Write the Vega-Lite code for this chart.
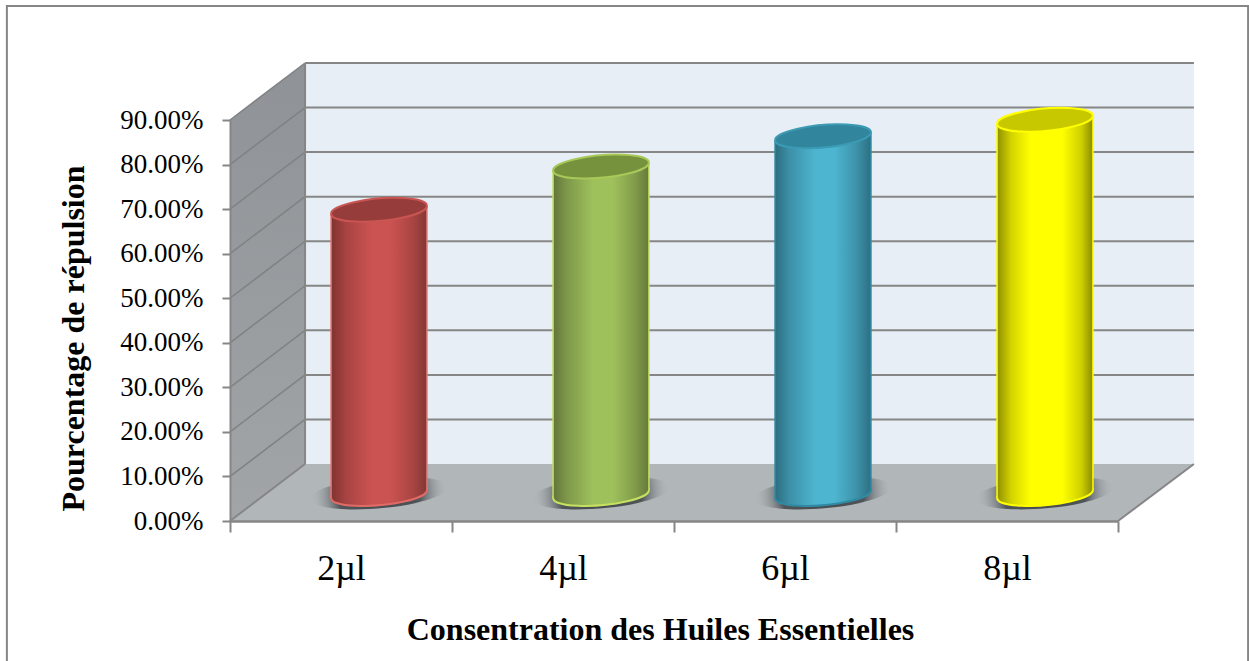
{
"$schema":"https://vega.github.io/schema/vega-lite/v6.json",
"width":888,"height":401,
"autosize":"none",
"padding":{"left":230,"top":120,"right":131,"bottom":140},
"background":"#ffffff",
"config":{"view":{"stroke":null}},
"datasets":{
"cylinders":[
{"concentration":"2µl","center":0.5,"value":0.638,"base":0},
{"concentration":"4µl","center":1.5,"value":0.735,"base":0},
{"concentration":"6µl","center":2.5,"value":0.803,"base":0},
{"concentration":"8µl","center":3.5,"value":0.84,"base":0}],
"edges":[
{"concentration":"2µl","x":0.284,"top":0.629,"bottom":-0.009},
{"concentration":"2µl","x":0.716,"top":0.647,"bottom":0.009},
{"concentration":"4µl","x":1.284,"top":0.726,"bottom":-0.009},
{"concentration":"4µl","x":1.716,"top":0.744,"bottom":0.009},
{"concentration":"6µl","x":2.284,"top":0.794,"bottom":-0.009},
{"concentration":"6µl","x":2.716,"top":0.812,"bottom":0.009},
{"concentration":"8µl","x":3.284,"top":0.831,"bottom":-0.009},
{"concentration":"8µl","x":3.716,"top":0.849,"bottom":0.009}],
"levels":[{"level":0.1},{"level":0.2},{"level":0.3},{"level":0.4},{"level":0.5},{"level":0.6},{"level":0.7},{"level":0.8},{"level":0.9}],
"sideWall":[{"x":0,"low":0,"high":0.9},{"x":0.338,"low":0.128,"high":1.028}],
"floor":[{"x":0,"upper":0,"lower":0},{"x":0.338,"upper":0.128,"lower":0},{"x":4,"upper":0.128,"lower":0},{"x":4.342,"upper":0.128,"lower":0.128}]
},
"resolve":{"scale":{"x":"independent"}},
"layer":[
{"data":{"values":[{"a":-1.005,"b":4.586,"c":1.156,"d":-0.4}]},
 "mark":{"type":"rect","fill":null,"fillOpacity":0,"stroke":"#868686","strokeWidth":2},
 "encoding":{"x":{"field":"a","type":"quantitative","scale":{"domain":[0,4]},"axis":null},"x2":{"field":"b"},"y":{"field":"c","type":"quantitative","scale":{"domain":[0,0.9]},
 "axis":{"title":"Pourcentage de répulsion","values":[0,0.1,0.2,0.3,0.4,0.5,0.6,0.7,0.8,0.9],"format":".2%","grid":false,"labelFont":"Liberation Serif","labelFontSize":27,"labelColor":"#000000","labelPadding":19,"tickSize":8,"tickColor":"#868686","tickWidth":2,"domainColor":"#868686","domainWidth":2,"zindex":1,"titleFont":"Liberation Serif","titleFontSize":32,"titleFontWeight":"bold","titleColor":"#000000","titleX":-147,"titleY":218,"titleBaseline":"alphabetic"}},"y2":{"field":"d"}}},
{"data":{"values":[{"a":0.338,"b":4.342,"c":0.128,"d":1.028}]},
 "mark":{"type":"rect","fill":"#e7eef5"},
 "encoding":{"x":{"field":"a","type":"quantitative","scale":{"domain":[0,4]},"axis":null},"x2":{"field":"b"},"y":{"field":"c","type":"quantitative"},"y2":{"field":"d"}}},
{"data":{"name":"sideWall"},
 "mark":{"type":"area","fill":{"gradient":"linear","x1":0,"y1":0,"x2":0,"y2":1,"stops":[{"offset":0,"color":"#8f9296"},{"offset":1,"color":"#a2a5a8"}]}},
 "encoding":{"x":{"field":"x","type":"quantitative","scale":{"domain":[0,4]},"axis":null},"y":{"field":"low","type":"quantitative"},"y2":{"field":"high"}}},
{"data":{"name":"floor"},
 "mark":{"type":"area","fill":"#b1b6b9"},
 "encoding":{"x":{"field":"x","type":"quantitative","scale":{"domain":[0,4]},"axis":null},"y":{"field":"upper","type":"quantitative"},"y2":{"field":"lower"}}},
{"data":{"name":"levels"},
 "mark":{"type":"rule","stroke":"#868686","strokeWidth":2,"yOffset":-57},
 "encoding":{"x":{"datum":0.338,"type":"quantitative","scale":{"domain":[0,4]},"axis":null},"x2":{"datum":4.342},"y":{"field":"level","type":"quantitative"}}},
{"data":{"name":"levels"},
 "mark":{"type":"rule","stroke":"#7f8285","strokeWidth":1.5,"y2Offset":-57},
 "encoding":{"x":{"datum":0,"type":"quantitative","scale":{"domain":[0,4]},"axis":null},"x2":{"datum":0.338},"y":{"field":"level","type":"quantitative"},"y2":{"field":"level"}}},
{"data":{"values":[{"x":0,"x2":0.338,"y":0,"y2":0.128},{"x":0.338,"x2":0.338,"y":0.128,"y2":1.028},{"x":4,"x2":4.342,"y":0,"y2":0.128}]},
 "mark":{"type":"rule","stroke":"#868686","strokeWidth":2},
 "encoding":{"x":{"field":"x","type":"quantitative","scale":{"domain":[0,4]},"axis":null},"x2":{"field":"x2"},"y":{"field":"y","type":"quantitative"},"y2":{"field":"y2"}}},
{"data":{"name":"cylinders"},
 "mark":{"type":"point","filled":true,"opacity":1,"size":19044,"xOffset":38,"yOffset":-28,"shape":"M-0.996,0.087A1,0.217,-5,1,1,0.996,-0.087A1,0.217,-5,1,1,-0.996,0.087Z","fill":{"gradient":"radial","x1":0.5,"y1":0.5,"x2":0.5,"y2":0.5,"r1":0,"r2":0.5,"stops":[{"offset":0,"color":"#454a4e"},{"offset":0.6,"color":"#50555a"},{"offset":1,"color":"rgba(177,182,185,0)"}]}},
 "encoding":{"x":{"field":"center","type":"quantitative","scale":{"domain":[0,4]},"axis":null},"y":{"field":"base","type":"quantitative"}}},

{"data":{"name":"cylinders"},"transform":[{"filter":"datum.concentration==='2µl'"}],
 "mark":{"type":"point","filled":true,"opacity":1,"size":9216,"xOffset":38,"yOffset":-27,"stroke":"#e06b66","strokeWidth":2,"shape":"M-0.996,0.087A1,0.229,-5,1,1,0.996,-0.087A1,0.229,-5,1,1,-0.996,0.087Z","fill":{"gradient":"linear","x1":0,"y1":0,"x2":1,"y2":0,"stops":[{"offset":0,"color":"#7f3330"},{"offset":0.15,"color":"#a64341"},{"offset":0.42,"color":"#cb5351"},{"offset":0.62,"color":"#cb5351"},{"offset":0.85,"color":"#a94543"},{"offset":1,"color":"#823836"}]}},
 "encoding":{"x":{"field":"center","type":"quantitative","scale":{"domain":[0,4]},"axis":null},"y":{"field":"base","type":"quantitative"}}},
{"data":{"name":"cylinders"},"transform":[{"filter":"datum.concentration==='4µl'"}],
 "mark":{"type":"point","filled":true,"opacity":1,"size":9216,"xOffset":38,"yOffset":-27,"stroke":"#c6e060","strokeWidth":2,"shape":"M-0.996,0.087A1,0.229,-5,1,1,0.996,-0.087A1,0.229,-5,1,1,-0.996,0.087Z","fill":{"gradient":"linear","x1":0,"y1":0,"x2":1,"y2":0,"stops":[{"offset":0,"color":"#62753a"},{"offset":0.15,"color":"#7f994a"},{"offset":0.42,"color":"#9fc15c"},{"offset":0.62,"color":"#9fc15c"},{"offset":0.85,"color":"#829c4b"},{"offset":1,"color":"#65793a"}]}},
 "encoding":{"x":{"field":"center","type":"quantitative","scale":{"domain":[0,4]},"axis":null},"y":{"field":"base","type":"quantitative"}}},
{"data":{"name":"cylinders"},"transform":[{"filter":"datum.concentration==='6µl'"}],
 "mark":{"type":"point","filled":true,"opacity":1,"size":9216,"xOffset":38,"yOffset":-27,"stroke":"#2f8aa3","strokeWidth":2,"shape":"M-0.996,0.087A1,0.229,-5,1,1,0.996,-0.087A1,0.229,-5,1,1,-0.996,0.087Z","fill":{"gradient":"linear","x1":0,"y1":0,"x2":1,"y2":0,"stops":[{"offset":0,"color":"#2d6d80"},{"offset":0.15,"color":"#3c90a7"},{"offset":0.42,"color":"#4db5d0"},{"offset":0.62,"color":"#4db5d0"},{"offset":0.85,"color":"#3d92aa"},{"offset":1,"color":"#2d6f82"}]}},
 "encoding":{"x":{"field":"center","type":"quantitative","scale":{"domain":[0,4]},"axis":null},"y":{"field":"base","type":"quantitative"}}},
{"data":{"name":"cylinders"},"transform":[{"filter":"datum.concentration==='8µl'"}],
 "mark":{"type":"point","filled":true,"opacity":1,"size":9216,"xOffset":38,"yOffset":-27,"stroke":"#ffff00","strokeWidth":2,"shape":"M-0.996,0.087A1,0.229,-5,1,1,0.996,-0.087A1,0.229,-5,1,1,-0.996,0.087Z","fill":{"gradient":"linear","x1":0,"y1":0,"x2":1,"y2":0,"stops":[{"offset":0,"color":"#8f8f00"},{"offset":0.15,"color":"#d4d400"},{"offset":0.35,"color":"#ffff00"},{"offset":0.68,"color":"#ffff00"},{"offset":0.88,"color":"#cfcf00"},{"offset":1,"color":"#8a8a00"}]}},
 "encoding":{"x":{"field":"center","type":"quantitative","scale":{"domain":[0,4]},"axis":null},"y":{"field":"base","type":"quantitative"}}},

{"data":{"name":"edges"},"transform":[{"filter":"datum.concentration==='2µl'"}],
 "mark":{"type":"area","xOffset":38,"yOffset":-27,"y2Offset":-27,"fill":{"gradient":"linear","x1":0,"y1":0,"x2":1,"y2":0,"stops":[{"offset":0,"color":"#7f3330"},{"offset":0.15,"color":"#a64341"},{"offset":0.42,"color":"#cb5351"},{"offset":0.62,"color":"#cb5351"},{"offset":0.85,"color":"#a94543"},{"offset":1,"color":"#823836"}]}},
 "encoding":{"x":{"field":"x","type":"quantitative","scale":{"domain":[0,4]},"axis":null},"y":{"field":"top","type":"quantitative"},"y2":{"field":"bottom"}}},
{"data":{"name":"edges"},"transform":[{"filter":"datum.concentration==='4µl'"}],
 "mark":{"type":"area","xOffset":38,"yOffset":-27,"y2Offset":-27,"fill":{"gradient":"linear","x1":0,"y1":0,"x2":1,"y2":0,"stops":[{"offset":0,"color":"#62753a"},{"offset":0.15,"color":"#7f994a"},{"offset":0.42,"color":"#9fc15c"},{"offset":0.62,"color":"#9fc15c"},{"offset":0.85,"color":"#829c4b"},{"offset":1,"color":"#65793a"}]}},
 "encoding":{"x":{"field":"x","type":"quantitative","scale":{"domain":[0,4]},"axis":null},"y":{"field":"top","type":"quantitative"},"y2":{"field":"bottom"}}},
{"data":{"name":"edges"},"transform":[{"filter":"datum.concentration==='6µl'"}],
 "mark":{"type":"area","xOffset":38,"yOffset":-27,"y2Offset":-27,"fill":{"gradient":"linear","x1":0,"y1":0,"x2":1,"y2":0,"stops":[{"offset":0,"color":"#2d6d80"},{"offset":0.15,"color":"#3c90a7"},{"offset":0.42,"color":"#4db5d0"},{"offset":0.62,"color":"#4db5d0"},{"offset":0.85,"color":"#3d92aa"},{"offset":1,"color":"#2d6f82"}]}},
 "encoding":{"x":{"field":"x","type":"quantitative","scale":{"domain":[0,4]},"axis":null},"y":{"field":"top","type":"quantitative"},"y2":{"field":"bottom"}}},
{"data":{"name":"edges"},"transform":[{"filter":"datum.concentration==='8µl'"}],
 "mark":{"type":"area","xOffset":38,"yOffset":-27,"y2Offset":-27,"fill":{"gradient":"linear","x1":0,"y1":0,"x2":1,"y2":0,"stops":[{"offset":0,"color":"#8f8f00"},{"offset":0.15,"color":"#d4d400"},{"offset":0.35,"color":"#ffff00"},{"offset":0.68,"color":"#ffff00"},{"offset":0.88,"color":"#cfcf00"},{"offset":1,"color":"#8a8a00"}]}},
 "encoding":{"x":{"field":"x","type":"quantitative","scale":{"domain":[0,4]},"axis":null},"y":{"field":"top","type":"quantitative"},"y2":{"field":"bottom"}}},

{"data":{"name":"edges"},
 "mark":{"type":"rule","strokeWidth":1.5,"xOffset":38,"yOffset":-27,"y2Offset":-27},
 "encoding":{"x":{"field":"x","type":"quantitative","scale":{"domain":[0,4]},"axis":null},"y":{"field":"top","type":"quantitative"},"y2":{"field":"bottom"},
 "color":{"field":"concentration","type":"nominal","legend":null,"scale":{"domain":["2µl","4µl","6µl","8µl"],"range":["#e07a75","#c6e060","#2f8aa3","#ffff00"]}}}},
{"data":{"name":"cylinders"},
 "mark":{"type":"point","filled":true,"opacity":1,"size":9216,"xOffset":38,"yOffset":-27,"strokeWidth":2,"shape":"M-0.996,0.087A1,0.229,-5,1,1,0.996,-0.087A1,0.229,-5,1,1,-0.996,0.087Z"},
 "encoding":{"x":{"field":"center","type":"quantitative","scale":{"domain":[0,4]},"axis":null},"y":{"field":"value","type":"quantitative"},
 "fill":{"field":"concentration","type":"nominal","legend":null,"scale":{"domain":["2µl","4µl","6µl","8µl"],"range":["#963c3a","#76923c","#31859c","#c8c800"]}},
 "stroke":{"field":"concentration","type":"nominal","legend":null,"scale":{"domain":["2µl","4µl","6µl","8µl"],"range":["#c95553","#a8c85a","#3b9ab4","#ffff00"]}}}},
{"data":{"name":"cylinders"},
 "mark":{"type":"point","opacity":0,"size":1},
 "encoding":{
  "x":{"field":"concentration","type":"nominal","sort":null,"scale":{"paddingInner":0,"paddingOuter":0},
   "axis":{"title":"Consentration des Huiles Essentielles","labelAngle":0,"labelFont":"Liberation Serif","labelFontSize":36,"labelColor":"#000000","labelPadding":19,"tickBand":"extent","tickSize":11,"tickColor":"#868686","tickWidth":2,"domainColor":"#868686","domainWidth":2.5,"zindex":1,"titleFont":"Liberation Serif","titleFontSize":32,"titleFontWeight":"bold","titleColor":"#000000","titleX":430,"titleY":118,"titleBaseline":"alphabetic"}},
  "y":{"datum":0,"type":"quantitative"}}}
]
}
